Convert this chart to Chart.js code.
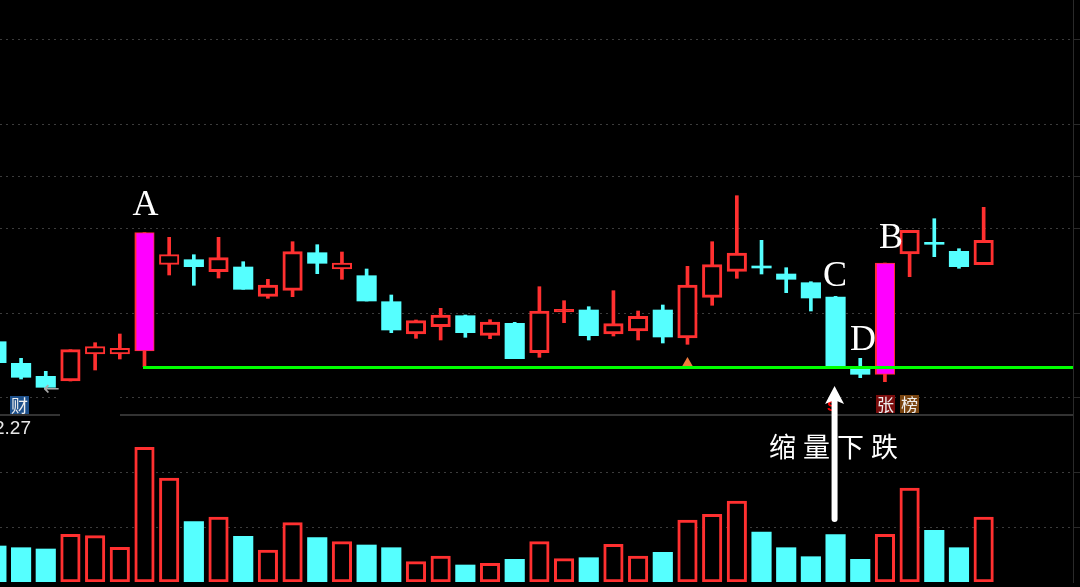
<!DOCTYPE html>
<html>
<head>
<meta charset="utf-8">
<style>
  html, body { margin: 0; background: #000; }
  canvas { display: block; }
</style>
<script src="https://cdn.jsdelivr.net/npm/chart.js@4/dist/chart.umd.min.js"></script>
</head>
<body>
<canvas id="kline" width="1080" height="587"></canvas>
<script>
// values, the price unit is arbitrary since the axis labels are hidden
const opens = [7.33,5.17,3.87,3.4,6.1,6.1,6.4,15.07,15.53,14.33,14.8,11.87,12.47,16.23,14.6,13.93,11.33,8.1,8.83,9.93,7.97,9.17,6.23,10.3,10.5,8.1,8.4,10.5,7.7,11.77,14.37,14.8,14.1,13.23,11.8,4.83,4.07,16.1,17.23,16.37,15.03];
const closes = [5.23,3.77,2.77,6.53,6.83,6.67,18.23,16.03,14.83,15.73,12.57,13,16.33,15.17,15.2,11.4,8.5,9.43,10,8.23,9.3,5.63,10.4,10.57,7.93,9.13,9.87,7.8,13,15.03,16.2,14.7,13.57,11.7,4.83,4.07,15.2,18.47,17.07,14.83,17.47];
const highs = [7.33,5.67,4.37,6.53,7.23,8.1,18.23,17.77,16.03,17.77,15.33,13.57,17.33,17.03,16.3,14.6,12,9.5,10.67,10,9.53,9.27,12.83,11.43,10.83,12.43,10.4,11,14.87,17.33,21.93,17.47,14.73,13.33,11.87,5.67,15.2,18.47,19.63,16.63,20.77];
const lows = [5.23,3.6,2.77,3.4,4.5,5.6,4.83,14,12.97,13.7,12.57,11.67,11.83,14.13,13.57,11.4,8.23,7.67,7.5,7.77,7.63,5.63,5.77,9.23,7.5,7.9,7.5,7.2,7.07,10.97,13.67,14.1,12.23,10.4,4.83,3.73,3.33,13.83,15.83,14.67,15.03];
const volumes = [18,17.15,16.5,23.85,23.15,17.35,67.35,52,30.15,32.5,22.85,16,29.65,22.15,20.15,18.5,17.15,10.15,13,8.5,9.35,11.35,20.15,11.65,12.15,18.85,13,14.85,31,33.85,40.5,25,17.15,12.65,23.65,11.35,23.85,47,25.85,17.15,32.5];
const limitUpDays = [6, 36];
const signalDays = [28];
const signalPrices = [5.2];
const supportPrice = 4.75;
const supportFrom = 5.94;
const priceTicks = [37.6, 29.1, 23.9, 18.7, 10.2, 1.8];
const volumeTicks = [54.6, 27.3];
const letters = ['A', 'B', 'C', 'D'];
const caption = '缩量下跌';
const badges = ['财', '张', '榜'];
const priceLabel = '2.27';

const RED = '#ff3030';
const CYAN = '#55ffff';
const MAGENTA = '#ff00ff';

const days = opens.map((_, i) => i);
const isUp = i => closes[i] >= opens[i];
const bodySize = i => Math.abs(closes[i] - opens[i]);

function bodyFill(i) {
    if (limitUpDays.includes(i)) return MAGENTA;
    if (!isUp(i)) return CYAN;
    return bodySize(i) < 0.3 ? RED : '#000';
}

function bodyBorder(i) {
    if (limitUpDays.includes(i)) return { left: 2, right: 1, top: 1, bottom: 1 };
    if (!isUp(i)) return 0;
    return bodySize(i) < 1 ? 2 : 3;
}
const lineColor = i => isUp(i) ? RED : CYAN;

function drawBadge(ctx, text, x, y, fill) {
    ctx.fillStyle = fill;
    ctx.fillRect(x, y, 19, 18);
    ctx.fillStyle = '#eee';
    ctx.font = '17px "Noto Sans CJK SC"';
    ctx.textAlign = 'center';
    ctx.textBaseline = 'middle';
    ctx.fillText(text, x + 9.5, y + 9.5);
}

// grid breaks and separator sit below the candles
const backdrop = {
    id: 'backdrop',
    beforeDatasetsDraw(chart) {
        const ctx = chart.ctx;
        const top = chart.scales.v.top;
        ctx.save();
        ctx.fillStyle = '#000';
        ctx.fillRect(60, 384, 60, 32);
        ctx.fillStyle = '#333';
        ctx.fillRect(0, top - 1, 60, 2);
        ctx.fillRect(120, top - 1, chart.chartArea.right - 120, 2);
        ctx.restore();
    }
};

const annotations = {
    id: 'annotations',
    afterDatasetsDraw(chart) {
        const ctx = chart.ctx;
        ctx.save();

        ctx.fillStyle = '#fff';
        ctx.font = '36px "Liberation Serif"';
        ctx.textAlign = 'center';
        ctx.textBaseline = 'alphabetic';
        ctx.fillText(letters[0], 145.5, 215);
        ctx.fillText(letters[1], 891, 248);
        ctx.fillText(letters[2], 835, 286);
        ctx.fillText(letters[3], 863, 350);

        ctx.textAlign = 'left';
        ctx.font = '27px "Noto Sans CJK SC"';
        ctx.letterSpacing = '7px';
        ctx.fillText(caption, 769, 457);
        ctx.letterSpacing = '0px';

        ctx.fillStyle = '#e8e8e8';
        ctx.font = '19px "Liberation Sans"';
        ctx.textAlign = 'right';
        ctx.fillText(priceLabel, 31, 434);

        ctx.fillStyle = '#aaa';
        ctx.font = '20px "DejaVu Sans"';
        ctx.textAlign = 'left';
        ctx.textBaseline = 'middle';
        ctx.fillText('←', 43, 390);

        drawBadge(ctx, badges[0], 10, 396, '#1c4f8a');
        drawBadge(ctx, badges[1], 876, 395, '#7a0c0c');
        drawBadge(ctx, badges[2], 900, 395, '#7a4510');

        ctx.fillStyle = '#f00';
        ctx.font = 'bold 15px "Liberation Sans"';
        ctx.textAlign = 'center';
        ctx.fillText('S', 832, 407);

        // arrow pointing at day C
        const x = chart.scales.x.getPixelForValue(34) - 1;
        ctx.strokeStyle = '#fff';
        ctx.lineWidth = 6;
        ctx.lineCap = 'round';
        ctx.beginPath();
        ctx.moveTo(x, 400);
        ctx.lineTo(x, 519);
        ctx.stroke();
        ctx.fillStyle = '#fff';
        ctx.beginPath();
        ctx.moveTo(x, 386);
        ctx.lineTo(x + 9.5, 404);
        ctx.lineTo(x, 400);
        ctx.lineTo(x - 9.5, 404);
        ctx.closePath();
        ctx.fill();

        ctx.restore();
    }
};

function paneAxis(stackWeight, weight, max, ticks) {
    return {
        position: 'right',
        stack: 'panes',
        stackWeight,
        weight,
        min: 0,
        max,
        afterBuildTicks: axis => { axis.ticks = ticks.map(value => ({ value })); },
        afterFit: axis => { axis.width = 7; },
        ticks: { display: false },
        grid: { color: '#3c3c3c', tickLength: 7, tickColor: '#2a2a2a', tickBorderDash: [] },
        border: { display: true, color: '#2a2a2a', dash: [2, 4] }
    };
}

new Chart(document.getElementById('kline'), {
    type: 'bar',
    plugins: [backdrop, annotations],
    data: {
        datasets: [
            {
                type: 'line',
                label: 'support',
                data: [{ x: supportFrom, y: supportPrice }, { x: 43.62, y: supportPrice }],
                yAxisID: 'y',
                borderColor: '#00ff00',
                borderWidth: 3,
                pointRadius: 0,
                order: 0
            },
            {
                type: 'line',
                label: 'signal',
                data: signalDays.map((d, i) => ({ x: d, y: signalPrices[i] })),
                yAxisID: 'y',
                showLine: false,
                pointStyle: 'triangle',
                pointRadius: 6,
                pointBackgroundColor: '#f07b3c',
                pointBorderWidth: 0,
                order: 1
            },
            {
                label: 'body',
                data: days.map(i => ({ x: i, y: [opens[i], closes[i]] })),
                yAxisID: 'y',
                barThickness: 19.5,
                minBarLength: 2,
                borderSkipped: false,
                borderWidth: c => bodyBorder(c.dataIndex),
                borderColor: c => RED,
                backgroundColor: c => bodyFill(c.dataIndex),
                order: 2
            },
            {
                label: 'wick',
                data: days.map(i => ({ x: i, y: [lows[i], highs[i]] })),
                yAxisID: 'y',
                barThickness: 3,
                backgroundColor: c => lineColor(c.dataIndex),
                order: 3
            },
            {
                label: 'volume',
                data: days.map(i => ({ x: i, y: volumes[i] })),
                yAxisID: 'v',
                barThickness: 19.5,
                borderSkipped: false,
                borderWidth: c => isUp(c.dataIndex) ? 3 : 0,
                borderColor: c => RED,
                backgroundColor: c => isUp(c.dataIndex) ? '#000' : CYAN,
                order: 4
            }
        ]
    },
    options: {
        responsive: false,
        animation: false,
        layout: { autoPadding: false, padding: { bottom: 5 } },
        datasets: { bar: { grouped: false } },
        plugins: { legend: { display: false }, tooltip: { enabled: false } },
        scales: {
            x: { type: 'linear', min: 0.146, max: 43.62, offset: false, display: false },
            y: paneAxis(415, 1, 41.5, priceTicks),
            v: paneAxis(167, 2, 83.5, volumeTicks)
        }
    }
});
</script>
</body>
</html>
